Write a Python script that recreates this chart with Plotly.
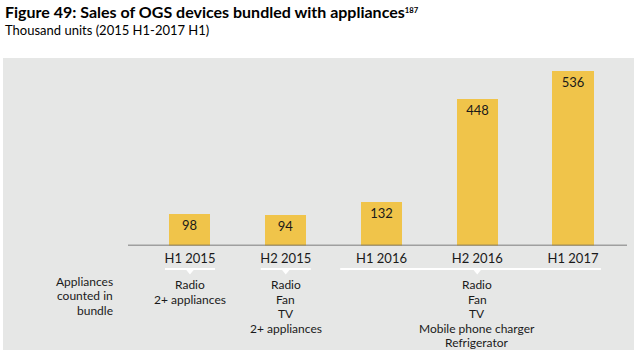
import plotly.graph_objects as go

categories = ["H1 2015", "H2 2015", "H1 2016", "H2 2016", "H1 2017"]
sales = [98, 94, 132, 448, 536]

# appliance groups: (first category index, last category index), label category, lines
group_spans = [(0, 0), (1, 1), (2, 4)]
group_label_cat = [0, 1, 3]
group_lines = [
    ["Radio", "2+ appliances"],
    ["Radio", "Fan", "TV", "2+ appliances"],
    ["Radio", "Fan", "TV", "Mobile phone charger", "Refrigerator"],
]
row_label = ["Appliances", "counted in", "bundle"]

title = "Figure 49: Sales of OGS devices bundled with appliances"
title_note = "187"
subtitle = "Thousand units (2015 H1-2017 H1)"

W, H = 634, 350
FONT = "Lato"
BAR = "#F0C44A"
BG = "#E6E7E6"

def py(pix):
    return 1 - pix / H

base_px = 245.5
top_px = 58
x_left = 142.1
x_right = 620.9
LS = 14.5  # line step for the appliance lists

fig = go.Figure()
fig.add_trace(go.Bar(
    x=list(range(len(categories))), y=sales,
    marker=dict(color=BAR, line=dict(width=0)),
    width=0.43,
    text=[str(v) for v in sales],
    textposition="inside", insidetextanchor="end",
    textfont=dict(family=FONT, size=13, color="#1a1a1a"),
    cliponaxis=False,
))

shapes = []
shapes.append(dict(type="rect", xref="paper", yref="paper", x0=3 / W, x1=1, y0=0, y1=py(top_px),
                   fillcolor=BG, line=dict(width=0), layer="below"))
shapes.append(dict(type="line", xref="paper", yref="y", x0=128 / W, x1=627 / W, y0=0, y1=0,
                   line=dict(color="#595959", width=1.5)))

pad = 25 / 95.75
tri = 4.5 / 95.75
for (a, b), c in zip(group_spans, group_label_cat):
    x0 = a - pad - (0.17 if b > a else 0)
    x1 = b + pad + (0.03 if b > a else 0)
    shapes.append(dict(type="line", xref="x", yref="paper", x0=x0, x1=x1, y0=py(269), y1=py(269),
                       line=dict(color="white", width=2)))
    shapes.append(dict(type="path", xref="x", yref="paper",
                       path=f"M {c - tri},{py(269)} L {c + tri},{py(269)} L {c},{py(274.5)} Z",
                       fillcolor="white", line=dict(width=0)))

annotations = []
annotations.append(dict(text=f"<b>{title}<span style='font-size:11px'><sup>{title_note}</sup></span></b>",
                        xref="paper", yref="paper", x=3 / W, y=py(11),
                        xanchor="left", yanchor="middle", showarrow=False,
                        font=dict(family=FONT, size=16, color="black")))
annotations.append(dict(text=subtitle, xref="paper", yref="paper", x=3 / W, y=py(30),
                        xanchor="left", yanchor="middle", showarrow=False,
                        font=dict(family=FONT, size=13, color="black")))
for i, line in enumerate(row_label):
    annotations.append(dict(text=line, xref="paper", yref="paper", x=115 / W, y=py(281 + LS * i),
                            xanchor="right", yanchor="middle", showarrow=False,
                            font=dict(family=FONT, size=12, color="#1a1a1a")))
for c, lines in zip(group_label_cat, group_lines):
    for i, line in enumerate(lines):
        annotations.append(dict(text=line, xref="x", yref="paper", x=c, y=py(284.5 + LS * i),
                                xanchor="center", yanchor="middle", showarrow=False,
                                font=dict(family=FONT, size=12, color="#1a1a1a")))

fig.update_layout(
    width=W, height=H, margin=dict(l=0, r=0, t=0, b=0),
    paper_bgcolor="white", plot_bgcolor="rgba(0,0,0,0)",
    showlegend=False, bargap=0,
    shapes=shapes, annotations=annotations,
    xaxis=dict(domain=[x_left / W, x_right / W], range=[-0.5, len(categories) - 0.5],
               tickmode="array", tickvals=list(range(len(categories))), ticktext=categories,
               tickfont=dict(family=FONT, size=13, color="#1a1a1a"),
               showgrid=False, zeroline=False, showline=False, ticks="", ticklabelstandoff=3),
    yaxis=dict(domain=[py(base_px), py(top_px)], range=[0, (base_px - top_px) / 0.3265],
               visible=False, showgrid=False, zeroline=False),
)

fig.write_html("out.html")
